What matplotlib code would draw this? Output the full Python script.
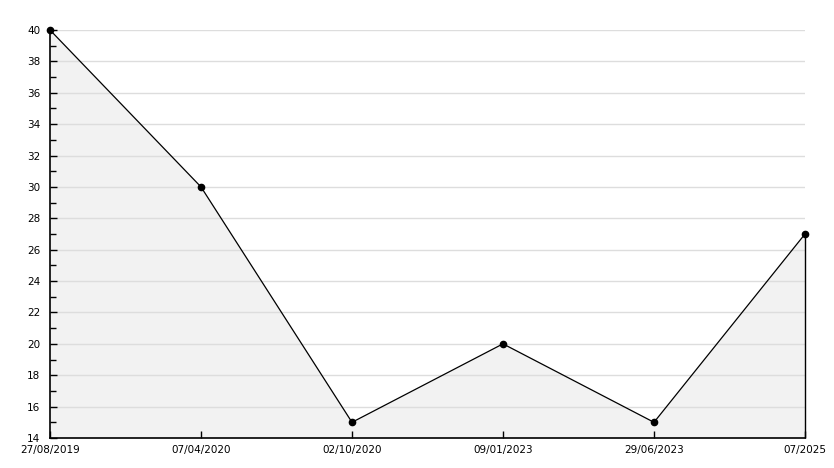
import matplotlib.pyplot as plt
import numpy as np
from matplotlib.ticker import MultipleLocator

dates = ["27/08/2019", "07/04/2020", "02/10/2020", "09/01/2023", "29/06/2023", "07/2025"]
values = [40, 30, 15, 20, 15, 27]

x = np.arange(len(dates))
y_min, y_max = 14, 40

fig = plt.figure(figsize=(8.34, 4.68), dpi=100)
ax = fig.add_axes([50 / 834, 30 / 468, 755 / 834, 408 / 468])

ax.set_xlim(x[0], x[-1])
ax.set_ylim(y_min, y_max)

ax.yaxis.set_major_locator(MultipleLocator(2))
ax.yaxis.set_minor_locator(MultipleLocator(1))
ax.grid(axis="y", color="#dddddd", linewidth=1, zorder=0)

ax.fill_between(x, values, y_min, color="#f2f2f2", zorder=1, linewidth=0)
ax.plot(x, values, color="black", linewidth=0.9, marker="o", markersize=4.5, zorder=3, clip_on=False)
ax.vlines(x[-1], y_min, values[-1], color="black", linewidth=1, zorder=2, clip_on=False)

ax.set_xticks(x)
ax.set_xticklabels(dates)

for side in ["top", "right"]:
    ax.spines[side].set_visible(False)
for side in ["left", "bottom"]:
    ax.spines[side].set_linewidth(1.2)

ax.tick_params(axis="both", which="major", direction="in", length=5, width=1, labelsize=7.5, colors="black")
ax.tick_params(axis="y", which="minor", direction="in", length=4, width=1)
ax.tick_params(axis="y", which="major", pad=7)
ax.tick_params(axis="x", which="major", pad=5)
# the lowest y label sits a little higher so it clears the first date
ax.get_yticklabels()[0].set_verticalalignment("bottom")

fig.savefig("out.png", dpi=100)
